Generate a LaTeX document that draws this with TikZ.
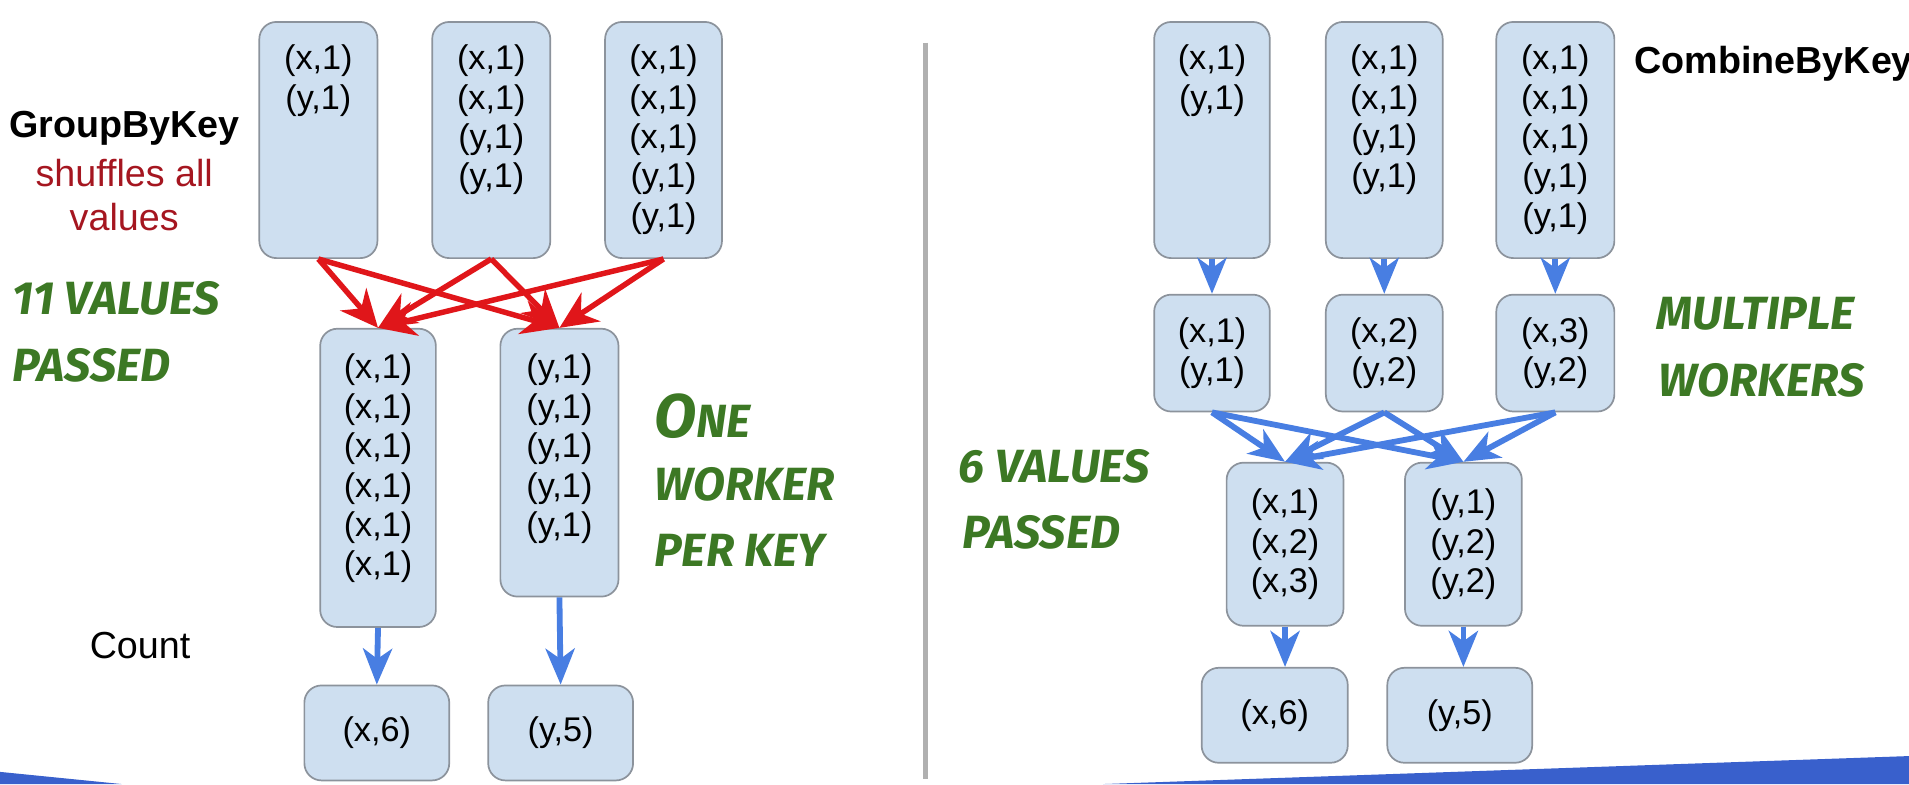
\documentclass[tikz,border=0pt]{standalone}
\usepackage{fontspec}
\setmainfont{Liberation Sans}
\newfontfamily\handfont{Fira Sans}
\usepackage{xcolor}
\usetikzlibrary{positioning, arrows.meta}
\newlength{\Px}
\setlength\Px{0.0125cm}
\definecolor{boxfill}{RGB}{206,223,240}
\definecolor{boxline}{RGB}{140,147,156}
\definecolor{redline}{RGB}{224,22,26}
\definecolor{blueline}{RGB}{72,126,226}
\definecolor{labelred}{RGB}{165,22,32}
\definecolor{handgreen}{RGB}{60,120,36}
\definecolor{barblue}{RGB}{57,96,204}
\definecolor{divider}{RGB}{176,176,176}

\begin{document}
\begin{tikzpicture}[
    x = 0.0125cm, y = -0.0125cm, align = center,
    box/.style = {
      rectangle, draw = boxline, fill = boxfill, line width = 0.5pt,
      rounded corners = 5pt, inner sep = 0pt,
      font = \fontsize{10}{11.5}\selectfont
    },
    pairs/.style = {
      inner sep = 0pt, font = \fontsize{10}{11.5}\selectfont
    },
    title/.style = {
      inner sep = 0pt, font = \fontsize{11}{13}\selectfont\bfseries
    },
    note/.style = {
      inner sep = 0pt, font = \fontsize{11}{12.8}\selectfont
    },
    hand/.style = {
      anchor = west, inner sep = 0pt, text = handgreen,
      font = \handfont\bfseries\itshape\fontsize{13.6}{15}\selectfont
    },
    shuffle/.style = {
      draw = redline, line width = 1.6pt,
      arrows = {-Stealth[length = 11pt, width = 10pt, inset = 3.5pt]}
    },
    flow/.style = {
      draw = blueline, line width = 1.7pt,
      arrows = {-Stealth[length = 10.5pt, width = 8.5pt, inset = 3pt]}
    },
  ]
    \useasboundingbox (0,0) rectangle (1568,644);

    % slide background
    \fill  [barblue]  (0,634) -- (100,644) -- (0,644) -- cycle;
    \fill  [barblue]  (906,644) -- (1568,621) -- (1568,644) -- cycle;
    \draw  [divider, line width = 1.4pt]  (760,35) -- (760,640);

    % left half: GroupByKey
    \node  [title]  (gbk)  at (102,105)  {GroupByKey};
    \node  [note, text = labelred]  (shuf)  at (102,160)  {shuffles all\\values};
    \node  [note]  (count)  at (115,530)  {Count};

    \node  [box, minimum width = 97*\Px, minimum height = 194*\Px]  (l1)  at (261.5,115)  {};
    \node  [box, minimum width = 97*\Px, minimum height = 194*\Px]  (l2)  at (403.5,115)  {};
    \node  [box, minimum width = 96*\Px, minimum height = 194*\Px]  (l3)  at (545,115)  {};
    \node  [pairs, below = 19*\Px of l1.north]  (l1t)  {(x,1)\\(y,1)};
    \node  [pairs, below = 19*\Px of l2.north]  (l2t)  {(x,1)\\(x,1)\\(y,1)\\(y,1)};
    \node  [pairs, below = 19*\Px of l3.north]  (l3t)  {(x,1)\\(x,1)\\(x,1)\\(y,1)\\(y,1)};

    \node  [box, minimum width = 95*\Px, minimum height = 245*\Px]  (m1)  at (310.5,392.5)  {};
    \node  [box, minimum width = 97*\Px, minimum height = 220*\Px]  (m2)  at (459.5,380)  {};
    \node  [pairs, below = 21*\Px of m1.north]  (m1t)  {(x,1)\\(x,1)\\(x,1)\\(x,1)\\(x,1)\\(x,1)};
    \node  [pairs, below = 21*\Px of m2.north]  (m2t)  {(y,1)\\(y,1)\\(y,1)\\(y,1)\\(y,1)};

    \node  [box, minimum width = 119*\Px, minimum height = 78*\Px]  (b1)  at (309.5,602)  {(x,6)};
    \node  [box, minimum width = 119*\Px, minimum height = 78*\Px]  (b2)  at (460.5,602)  {(y,5)};

    % draw shuffle paths from every input to both keys
    \foreach \s in {l1, l2, l3}
    \foreach \t in {m1, m2}
    \draw  [shuffle]  (\s.south)  --  (\t.north);

    \draw  [flow]  (m1.south)  --  (b1.north);
    \draw  [flow]  (m2.south)  --  (b2.north);

    \node  [hand]  (v11)  at (10,245)  {11 VALUES};
    \node  [hand]  (p11)  at (10,300)  {PASSED};
    \node  [hand]  (one)  at (537,342)  {{\fontsize{18}{18}\selectfont O}NE};
    \node  [hand]  (wrk)  at (537,398)  {WORKER};
    \node  [hand]  (pky)  at (537,452)  {PER KEY};

    % right half: CombineByKey
    \node  [title, anchor = west]  (cbk)  at (1342,52)  {CombineByKey};

    \node  [box, minimum width = 95*\Px, minimum height = 194*\Px]  (t1)  at (995.5,115)  {};
    \node  [box, minimum width = 96*\Px, minimum height = 194*\Px]  (t2)  at (1137,115)  {};
    \node  [box, minimum width = 97*\Px, minimum height = 194*\Px]  (t3)  at (1277.5,115)  {};
    \node  [pairs, below = 19*\Px of t1.north]  (t1t)  {(x,1)\\(y,1)};
    \node  [pairs, below = 19*\Px of t2.north]  (t2t)  {(x,1)\\(x,1)\\(y,1)\\(y,1)};
    \node  [pairs, below = 19*\Px of t3.north]  (t3t)  {(x,1)\\(x,1)\\(x,1)\\(y,1)\\(y,1)};

    \node  [box, minimum width = 95*\Px, minimum height = 96*\Px]  (c1)  at (995.5,290)  {(x,1)\\(y,1)};
    \node  [box, minimum width = 96*\Px, minimum height = 96*\Px]  (c2)  at (1137,290)  {(x,2)\\(y,2)};
    \node  [box, minimum width = 97*\Px, minimum height = 96*\Px]  (c3)  at (1277.5,290)  {(x,3)\\(y,2)};

    \node  [box, minimum width = 96*\Px, minimum height = 134*\Px]  (d1)  at (1055.5,447)  {(x,1)\\(x,2)\\(x,3)};
    \node  [box, minimum width = 96*\Px, minimum height = 134*\Px]  (d2)  at (1202,447)  {(y,1)\\(y,2)\\(y,2)};

    \node  [box, minimum width = 120*\Px, minimum height = 78*\Px]  (e1)  at (1047,587.5)  {(x,6)};
    \node  [box, minimum width = 119*\Px, minimum height = 78*\Px]  (e2)  at (1199,587.5)  {(y,5)};

    % draw local combine, then partial sums to keys
    \foreach \i in {1, ..., 3}
    \draw  [flow]  (t\i.south)  --  (c\i.north);

    \foreach \s in {c1, c2, c3}
    \foreach \t in {d1, d2}
    \draw  [flow]  (\s.south)  --  (\t.north);

    \draw  [flow]  (d1.south)  --  (d1.south |- e1.north);
    \draw  [flow]  (d2.south)  --  (d2.south |- e2.north);

    \node  [hand]  (mul)  at (1360,258)  {MULTIPLE};
    \node  [hand]  (wrs)  at (1362,312)  {WORKERS};
    \node  [hand]  (v6)  at (787,383)  {6 VALUES};
    \node  [hand]  (p6)  at (790,437)  {PASSED};

\end{tikzpicture}
\end{document}
